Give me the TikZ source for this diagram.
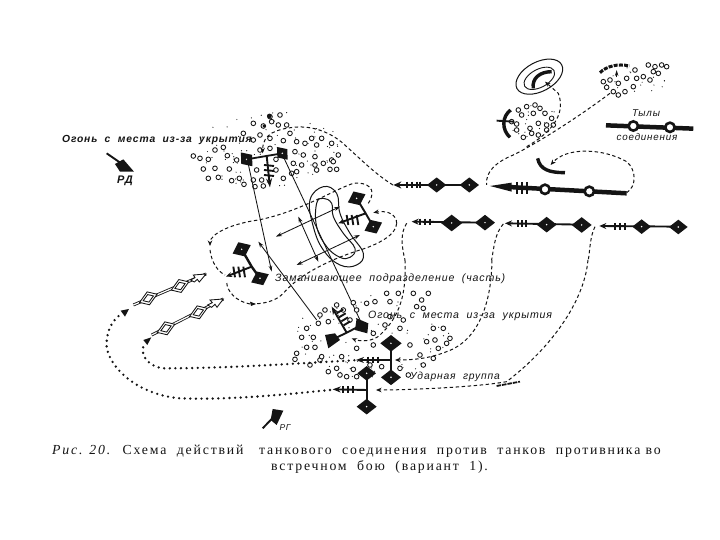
\documentclass[tikz,border=0pt]{standalone}
\usepackage{fontspec}
\setmainfont{Liberation Serif}
\setsansfont{Liberation Sans}
\newfontfamily\handf[LetterSpace=8]{Liberation Sans}
\newfontfamily\captf[LetterSpace=13]{Liberation Serif}
\usetikzlibrary{arrows.meta}
\definecolor{ink}{gray}{0.08}
\tikzset{
 zm/.style 2 args={shift={(#1,#2)},x=0.3333pt,y=-0.3333pt},
 dline/.style={line width=1pt,dash pattern=on 3.4pt off 2.6pt,draw=ink},
 dashar/.style={dline,-{Stealth[length=5.5pt,width=4.5pt]}},
 fine/.style={line width=0.85pt,draw=ink},
 finear/.style={fine,-{Stealth[length=6pt,width=3.5pt]}},
 dbl/.style={fine,{Stealth[length=6pt,width=4pt]}-{Stealth[length=6pt,width=4pt]}},
 dotline/.style={line width=2.6pt,line cap=round,dash pattern=on 0pt off 5.6pt,draw=ink},
 hole/.style={line width=0.85pt,draw=ink,fill=white},
 stem/.style={line width=1.9pt,draw=ink},
 hand/.style={font=\handf\itshape\fontsize{10.6}{12}\selectfont,text=ink,inner sep=0pt},
 capt/.style={font=\captf\fontsize{13.8}{15}\selectfont,text=ink,inner sep=0pt,anchor=west},
}
\newcommand\holes[1]{\foreach \a/\b in {#1}{\draw[hole] (\a,\b) circle[radius=7];}}
\newcommand\speck[5]{\foreach \n in {1,...,#5}{\pgfmathsetmacro\pa{rand*180}\pgfmathsetmacro\pr{sqrt(abs(rand))}\fill[ink] ({#1+#3*\pr*cos(\pa)},{#2+#4*\pr*sin(\pa)}) circle[radius=1.8];}}
\newcommand\kite[4]{\fill[ink,shift={(#1,#2)},rotate=#3] (-#4,0)--(0,0.78*#4)--(#4,0)--(0,-0.78*#4)--cycle;\fill[white] (#1,#2) circle[radius=2.5];}
\newcommand\wkite[3]{\draw[fine,fill=white,shift={(#1,#2)},rotate=25] (-29,0)--(-5,19)--(29,0)--(5,-19)--cycle;\draw[fine,shift={(#1,#2)},rotate=25] (-17,0)--(-3,11)--(17,0)--(3,-11)--cycle;}
\newcommand\ticks[4]{\foreach \k in {0,1,2}{\draw[stem,shift={(#1,#2)},rotate=#3] (#4*\k,-10)--(#4*\k,10);}}
\begin{document}
\begin{tikzpicture}[x=1pt,y=-1pt]
\pgfmathsetseed{20}
\useasboundingbox (0,0) rectangle (720,540);
\fill[white] (0,0) rectangle (720,540);

% ===== top-left cloud and tank
\begin{scope}[zm={40}{90}]
\speck{680}{175}{230}{115}{70}
\holes{460/198,480/205,505/208,525/180,550/172,562/197,490/237,525/235,568/237,590/210,505/265,535/262,575/272,598/265,612/283,640/270,665/270,645/290,670/288,650/240,708/240,708/208,730/265,755/250,760/220,765/185,770/155,795/160,815/145,830/165,845/145,875/160,895/195,875/210,825/200,790/195,785/225,825/225,850/220,880/215,830/240,870/238,890/238,770/245,610/130,640/100,670/108,695/95,715/105,740/105,720/75,690/80,660/135,690/145,730/152,750/130,640/150,660/180,690/175}
\fill[ink] (688,78) circle[radius=7];\fill[ink] (672,108) circle[radius=5];
\coordinate (tl) at (620,208);\coordinate (tr) at (727,190);\coordinate (tm) at (680,197);\coordinate (tt) at (690,292);
\draw[stem,line width=1.8pt] (tl)--(tr);
\draw[stem,-{Stealth[length=9pt,width=6pt]}] (tm)--(tt);
\foreach \yy in {225,240,255}{\draw[stem] (672,\yy)--(702,\yy+3);}
\kite{620}{208}{-50}{27}
\kite{727}{190}{-50}{25}
\draw[dashar] (1059,285) .. controls (1010,255) and (970,215) .. (920,170) .. controls (880,130) and (820,105) .. (760,112) .. controls (710,118) and (668,130) .. (668,190);
% RD
\coordinate (rda) at (200,190);\coordinate (rdb) at (255,228);
\draw[stem] (rda)--(rdb);
\fill[ink] (225,222)--(250,208)--(282,245)--(240,245)--cycle;
\end{scope}
\node[hand,anchor=west,font=\handf\itshape\bfseries\fontsize{10.3}{12}\selectfont] (fire1) at (62,140) {Огонь\ \ с\ \ места\ \ из-за\ \ укрытия};
\node[hand,font=\handf\itshape\bfseries\fontsize{11}{12}\selectfont] (rd) at (125,181) {РД};

% ===== central area
\begin{scope}[zm={200}{170}]
\draw[fine,line width=1pt] plot[smooth cycle,tension=0.7] coordinates{(370,50)(410,70)(420,130)(450,190)(490,250)(470,285)(420,285)(370,240)(340,170)(330,90)};
\draw[fine,line width=1pt] plot[smooth cycle,tension=0.7] coordinates{(370,85)(395,100)(400,140)(430,190)(465,235)(450,262)(420,262)(380,230)(350,170)(350,100)};
\coordinate (a1) at (140,-40);\coordinate (a2) at (215,305);
\coordinate (b1) at (250,-40);\coordinate (b2) at (480,450);
\draw[finear] (a1)--(a2);
\draw[fine] (b1)--(b2);
\draw[dbl] (295,140)--(355,275);
\draw[fine,{Stealth[length=6pt,width=4pt]}-] (175,215)--(350,450);
\draw[dbl] (228,200)--(420,110);
\draw[dbl] (290,285)--(480,195);
\draw[dashar] (505,100) .. controls (535,55) and (500,35) .. (460,40) .. controls (400,60) and (300,125) .. (175,150) .. controls (100,160) and (30,190) .. (30,228);
\draw[dline] (30,240) .. controls (35,280) and (55,305) .. (75,315);
\draw[dashar] (590,160) .. controls (590,135) and (565,120) .. (520,128);
\draw[dline] (590,160) .. controls (590,195) and (530,225) .. (480,240) .. controls (400,265) and (300,310) .. (250,370) .. controls (225,395) and (190,402) .. (150,402);
\draw[dline] (150,402) .. controls (110,395) and (80,365) .. (80,335);
\fill[ink] (168,402)--(150,395)--(153,408)--cycle;
\coordinate (rt1) at (470,85);\coordinate (rt2) at (520,170);\coordinate (rtm) at (497,130);\coordinate (rtt) at (415,160);
\draw[stem] (rt1)--(rtm)--(rt2);
\draw[stem,-{Stealth[length=6pt,width=5pt]}] (rtm)--(rtt);
\foreach \xx in {440,455,470}{\draw[stem] (\xx,135)--(\xx+5,165);}
\kite{470}{85}{25}{29}
\kite{520}{170}{25}{29}
\coordinate (lt1) at (125,238);\coordinate (lt2) at (180,325);\coordinate (ltm) at (155,290);\coordinate (ltt) at (78,320);
\draw[stem,line width=2.4pt] (lt1)--(ltm)--(lt2);
\draw[stem,-{Stealth[length=6pt,width=5pt]}] (ltm)--(ltt);
\foreach \xx in {100,115,130}{\draw[stem] (\xx,290)--(\xx+5,322);}
\kite{125}{238}{25}{30}
\kite{180}{325}{25}{29}
\end{scope}
\node[hand,anchor=west] (lure) at (275,279) {Заманивающее\ \ подразделение\ \ (часть)};

% ===== right: columns
\begin{scope}[zm={370}{50}]
\speck{490}{215}{75}{60}{16}
\speck{790}{90}{100}{45}{16}
\holes{425/215,440/240,445/180,470/170,455/195,495/165,510/175,490/190,525/190,545/205,505/220,530/225,480/235,460/262,485/250,505/255,530/240,550/225,440/222}
\holes{710/112,730/125,745/100,745/135,765/125,790/110,800/85,770/85,720/90,795/60,820/80,835/45,850/65,840/90,865/70,855/50,875/45,890/50,700/95}
\draw[line width=3pt,ink,dash pattern=on 4pt off 1.2pt] (690,68) .. controls (710,48) and (745,40) .. (778,48);
\draw[finear,line width=1.3pt] (740,82)--(740,60);
\draw[fine,line width=1pt,rotate around={28:(508,80)}] (508,80) ellipse[x radius=76,y radius=44];
\draw[fine,line width=0.9pt,rotate around={28:(508,85)}] (508,85) ellipse[x radius=50,y radius=27];
\draw[ink,line width=3.4pt] (490,115) .. controls (485,85) and (510,65) .. (545,65);
\draw[ink,line width=3.4pt] (422,180) .. controls (395,200) and (395,240) .. (420,262);
\draw[stem] (380,212)--(432,215);
\draw[dashar] (470,290) .. controls (540,250) and (590,195) .. (565,130) -- (525,95);
\draw[dline] (720,130) .. controls (640,190) and (520,270) .. (430,315) .. controls (380,335) and (345,365) .. (350,405);
\draw[dashar] (770,428) .. controls (800,410) and (800,360) .. (770,335) .. controls (700,295) and (590,290) .. (542,345);
\draw[ink,line width=3.4pt] (503,325) .. controls (510,360) and (540,368) .. (585,368);
% column A
\draw[stem,-{Stealth[length=8pt,width=7pt]}] (175,405)--(70,405);
\draw[stem] (175,405)--(275,405);
\ticks{110}{405}{0}{15}\draw[stem] (150,395)--(150,415);
\kite{200}{405}{0}{29}\kite{298}{405}{0}{29}
% column B thick
\coordinate (b0) at (770,430);\coordinate (bt) at (360,408);
\fill[ink] (360,408)--(425,398)--(425,425)--cycle;
\draw[ink,line width=4.5pt] (415,411)--(b0);
\foreach \xx in {440,455,470}{\draw[stem] (\xx,396)--(\xx,432);}
\draw[ink,line width=2.6pt,fill=white] (525,418) circle[radius=14];
\draw[ink,line width=2.6pt,fill=white] (658,424) circle[radius=14];
% column C
\draw[stem,-{Stealth[length=7pt,width=6pt]}] (345,518)--(125,515);
\ticks{150}{516}{0}{15}
\kite{245}{519}{0}{32}\kite{345}{518}{0}{30}
% column D
\draw[stem,-{Stealth[length=7pt,width=6pt]}] (635,524)--(405,520);
\ticks{445}{521}{0}{12}
\kite{530}{524}{0}{30}\kite{635}{525}{0}{30}
% column E
\draw[stem,-{Stealth[length=7pt,width=6pt]}] (925,530)--(688,528);
\ticks{735}{529}{0}{15}
\kite{815}{530}{0}{28}\kite{925}{531}{0}{28}
% descending dashed
\draw[dline] (110,520) .. controls (90,550) and (95,590) .. (105,630);
\draw[dline] (400,522) .. controls (375,550) and (372,590) .. (365,630);
\draw[dline] (675,530) .. controls (660,560) and (660,600) .. (655,630);
% legend rear
\draw[ink,line width=4.5pt] (708,226)--(970,236);
\draw[ink,line width=2.6pt,fill=white] (790,228) circle[radius=14];
\draw[ink,line width=2.6pt,fill=white] (900,232) circle[radius=14];
\end{scope}
\node[hand,font=\handf\itshape\fontsize{9.8}{12}\selectfont] (rear1) at (646,113) {Тылы};
\node[hand,font=\handf\itshape\fontsize{9.8}{12}\selectfont] (rear2) at (647,137) {соединения};

% ===== bottom: cloud, strike group, dotted
\begin{scope}[zm={80}{260}]
\speck{880}{230}{240}{125}{70}
\holes{920/100,955/100,1000/100,1025/120,1045/100,930/125,885/125,860/130,820/128,770/135,735/150,720/165,745/185,715/190,680/205,700/232,665/232,680/262,705/262,650/280,645/298,690/315,720/300,745/335,770/325,780/345,800/350,820/328,870/315,905/320,960/325,985/345,1030/315,1060/295,1020/285,990/255,1040/245,1065/240,1090/205,1060/205,1100/250,960/205,915/195,880/220,830/265,880/255,930/170,970/180,1010/140,1030/145,785/290,725/290,790/150,810/180,830/150,1075/265,1110/235,830/350,860/350}
\draw[dashar] (975,0) .. controls (980,100) and (960,170) .. (900,225) .. controls (880,245) and (840,245) .. (815,235);
\draw[dashar] (1236,0) .. controls (1235,120) and (1200,240) .. (1100,275) .. controls (1050,295) and (1000,300) .. (945,300);
\draw[dashar] (1524,0) .. controls (1515,110) and (1430,250) .. (1280,365) .. controls (1200,380) and (1000,390) .. (888,390);
\draw[ink,line width=1.8pt,dash pattern=on 4.5pt off 1pt] (1250,378)--(1320,365);
\draw[dotline] (750,390) .. controls (600,405) and (450,420) .. (300,415) .. controls (180,405) and (90,330) .. (80,260) .. controls (78,210) and (100,175) .. (128,160);
\fill[ink] (147,147)--(122,152)--(135,170)--cycle;
\draw[dotline] (840,300) .. controls (650,310) and (450,325) .. (250,325) .. controls (200,320) and (175,275) .. (195,252);
\fill[ink] (214,232)--(190,240)--(202,255)--cycle;
\draw[fine,double=white,double distance=1.2pt] (160,135)--(378,42);
\wkite{205}{115}{}\wkite{300}{78}{}
\draw[fine,fill=white] (378,42)--(340,45)--(345,53)--(332,60)--(343,66)--(352,58)--(358,66)--cycle;
\draw[fine,double=white,double distance=1.2pt] (215,225)--(430,117);
\wkite{258}{205}{}\wkite{355}{157}{}
\draw[fine,fill=white] (430,117)--(390,120)--(397,128)--(383,135)--(395,142)--(405,133)--(411,142)--cycle;
% RG
\coordinate (rg1) at (548,505);\coordinate (rg2) at (582,470);
\draw[stem] (rg1)--(rg2);
\fill[ink] (578,447)--(610,452)--(590,495)--(572,480)--cycle;
\end{scope}

\begin{scope}[zm={280}{290}]
\coordinate (lo1) at (155,150);\coordinate (lo2) at (245,105);\coordinate (lom) at (200,128);\coordinate (lot) at (155,50);
\draw[stem] (lo1)--(lom)--(lo2);
\draw[stem,-{Stealth[length=8pt,width=6pt]}] (lom)--(lot);
\foreach \k in {0,1,2,3}{\draw[stem] ({170+\k*7},{70+\k*12})--({190+\k*7},{58+\k*12});}
\fill[ink] (135,135)--(165,130)--(180,150)--(145,175)--cycle;
\fill[ink] (230,85)--(265,100)--(262,130)--(225,120)--cycle;
\coordinate (s1) at (333,160);\coordinate (s2) at (333,262);\coordinate (s3) at (260,250);\coordinate (s4) at (260,350);
\draw[stem] (s1)--(s2);
\draw[stem,-{Stealth[length=8pt,width=6pt]}] (333,210)--(228,210);
\foreach \xx in {265,280,295}{\draw[stem] (\xx,200)--(\xx,220);}
\kite{333}{160}{0}{32}\kite{333}{262}{0}{30}
\draw[stem] (s3)--(s4);
\draw[stem,-{Stealth[length=8pt,width=6pt]}] (260,300)--(158,298);
\foreach \xx in {190,205,220}{\draw[stem] (\xx,289)--(\xx,309);}
\kite{260}{250}{0}{28}\kite{260}{350}{0}{30}
\end{scope}

\node[hand,anchor=west] (fire2) at (368,316) {Огонь\ \ с\ \ места\ \ из-за\ \ укрытия};
\node[hand,anchor=west,font=\handf\itshape\fontsize{10.3}{12}\selectfont] (strike) at (410,377) {Ударная\ \ группа};
\node[hand,font=\handf\itshape\fontsize{8.5}{10}\selectfont] (rg) at (285,428) {РГ};

\node[capt] (c1) at (52,451) {\textit{Рис. 20.}\ \ Схема\ \ действий\ \ \ танкового\ \ соединения\ \ против\ \ танков\ \ противника во};
\node[capt] (c2) at (271,467) {встречном\ \ бою\ \ (вариант\ \ 1).};
\end{tikzpicture}
\end{document}
